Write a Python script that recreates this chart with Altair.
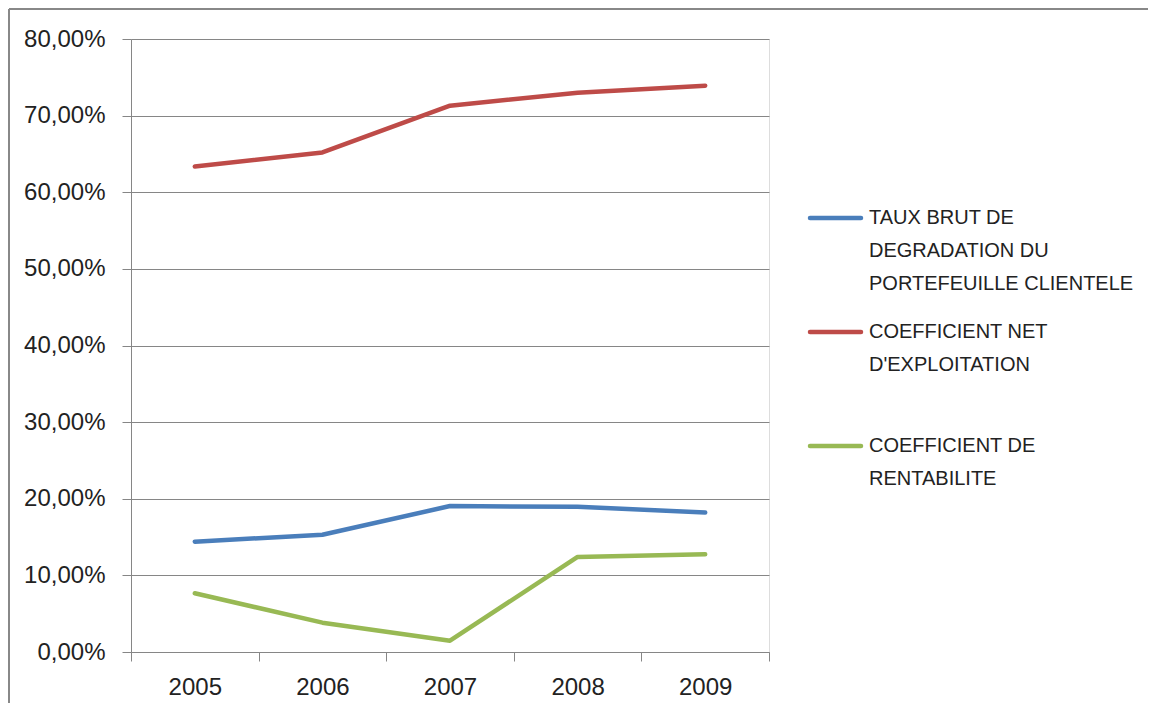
import altair as alt
import pandas as pd

years = ["2005", "2006", "2007", "2008", "2009"]
series = [
    "TAUX BRUT DE DEGRADATION DU PORTEFEUILLE CLIENTELE",
    "COEFFICIENT NET D'EXPLOITATION",
    "COEFFICIENT DE RENTABILITE",
]
legend_lines = [
    "TAUX BRUT DE|DEGRADATION DU|PORTEFEUILLE CLIENTELE",
    "COEFFICIENT NET|D'EXPLOITATION",
    "COEFFICIENT DE|RENTABILITE",
]
taux_brut = [0.144, 0.153, 0.1905, 0.1895, 0.182]
coef_net = [0.6335, 0.652, 0.713, 0.730, 0.739]
coef_rent = [0.0766, 0.0383, 0.0148, 0.124, 0.1275]
colors = ["#4A7EBB", "#BE4B48", "#98B954"]
y_ticks = [0, 0.1, 0.2, 0.3, 0.4, 0.5, 0.6, 0.7, 0.8]

rows = []
for name, vals in zip(series, [taux_brut, coef_net, coef_rent]):
    for yr, v in zip(years, vals):
        rows.append({"annee": yr, "serie": name, "valeur": v})
df = pd.DataFrame(rows)
leg = pd.DataFrame({"serie": series, "texte": legend_lines})

W, H = 638, 613
GRID = "#868686"
FONT = "Liberation Sans"

color = alt.Color("serie:N", scale=alt.Scale(domain=series, range=colors), legend=None)

lines = alt.Chart(df).mark_line(strokeWidth=4.5, strokeCap="round", strokeJoin="round").encode(
    x=alt.X(
        "annee:N",
        sort=years,
        scale=alt.Scale(type="band", paddingInner=0, paddingOuter=0),
        axis=alt.Axis(
            title=None, labelAngle=0, tickBand="extent", grid=False,
            domainColor=GRID, tickColor=GRID, tickSize=9, labelPadding=14,
            labelFont=FONT, labelFontSize=24, labelColor="#222222",
        ),
    ),
    y=alt.Y(
        "valeur:Q",
        scale=alt.Scale(domain=[0, 0.8], nice=False),
        axis=alt.Axis(
            title=None, values=y_ticks, gridColor=GRID, domainColor=GRID, tickColor=GRID,
            tickSize=9, labelPadding=17, labelFont=FONT, labelFontSize=24, labelColor="#222222",
            labelExpr="replace(format(datum.value, '.2%'), '.', ',')",
        ),
    ),
    color=color,
    detail="serie:N",
)

ly = alt.Y("serie:N", sort=series,
           scale=alt.Scale(type="point", domain=series, range=[179, 407], padding=0),
           axis=None)

leg_rule = alt.Chart(leg).mark_rule(strokeWidth=4.5, strokeCap="round").encode(
    x=alt.value(679), x2=alt.value(730), y=ly, color=color,
)
leg_text = alt.Chart(leg).transform_calculate(
    lignes="split(datum.texte, '|')"
).mark_text(
    align="left", baseline="top", dy=-10, lineHeight=33,
    font=FONT, fontSize=20, color="#222222", limit=290,
).encode(
    x=alt.value(738), y=ly, text="lignes:N",
)

frame_data = alt.Data(values=[{"k": 1}])
frame_left = alt.Chart(frame_data).mark_rule(color="#888888", strokeWidth=2).encode(
    x=alt.value(-122), y=alt.value(-30), y2=alt.value(664)
)
frame_top = alt.Chart(frame_data).mark_rule(color="#888888", strokeWidth=2).encode(
    x=alt.value(-122), x2=alt.value(1017), y=alt.value(-30)
)

chart = alt.layer(lines, leg_rule, leg_text, frame_left, frame_top).resolve_scale(
    y="independent"
).properties(
    width=W, height=H, padding=0
).configure_view(stroke=None).configure(background="white")

chart.save("out.html", embed_options={"renderer": "svg", "actions": False})
